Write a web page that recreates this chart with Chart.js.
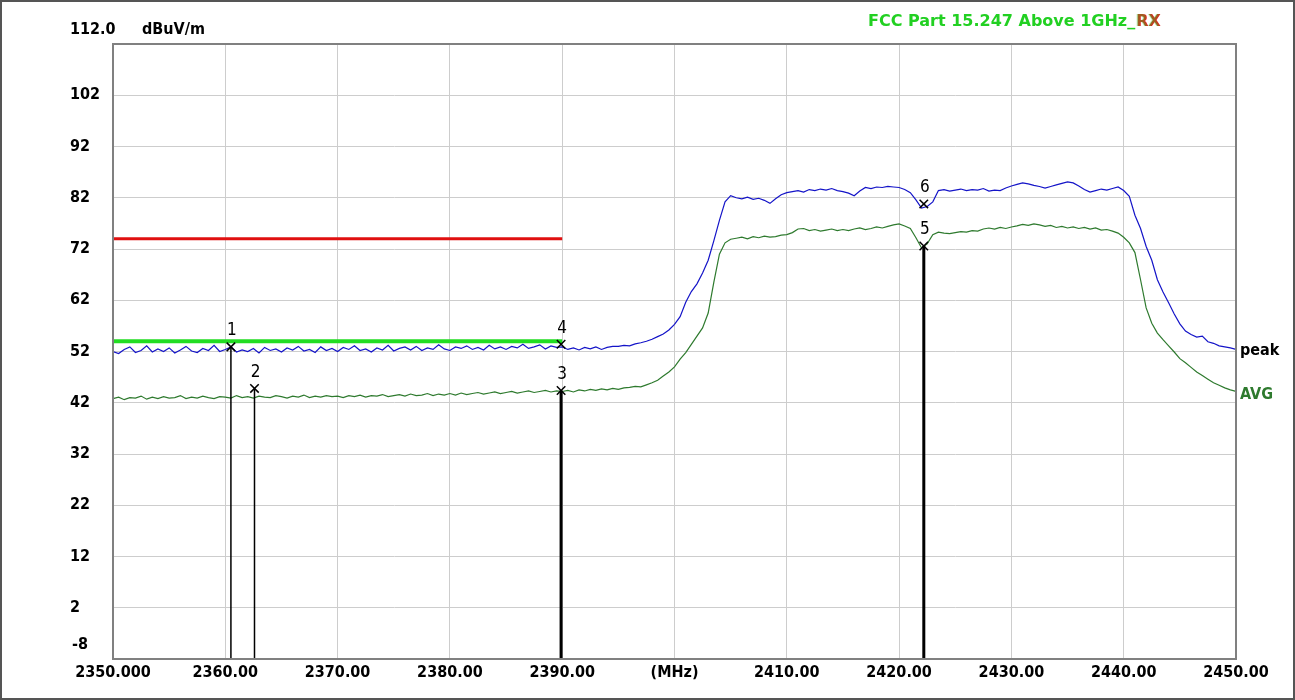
<!DOCTYPE html>
<html>
<head>
<meta charset="utf-8">
<script src="https://cdn.jsdelivr.net/npm/chart.js@4/dist/chart.umd.min.js"></script>
<style>
  html, body { margin: 0; padding: 0; background: #fff; }
  #wrap { width: 1295px; height: 700px; }
</style>
</head>
<body>
<div id="wrap"><canvas id="emiChart" width="1295" height="700"></canvas></div>
<script>
// sweep: 2350 MHz .. 2450 MHz, one reading every 0.5 MHz
const freqStart = 2350;
const freqStep = 0.5;

const peakLevel = [
  52.0, 51.6, 52.4, 52.9, 51.8, 52.2, 53.1, 51.9, 52.5, 52.0,
  52.7, 51.7, 52.3, 53.0, 52.1, 51.8, 52.6, 52.2, 53.2, 52.0,
  52.4, 52.9, 51.9, 52.3, 52.0, 52.6, 51.7, 52.8, 52.2, 52.5,
  51.9, 52.7, 52.3, 53.0, 52.1, 52.4, 51.8, 52.9, 52.2, 52.6,
  52.0, 52.8, 52.4, 53.1, 52.2, 52.5, 51.9, 52.7, 52.3, 53.2,
  52.1, 52.6, 52.9, 52.3, 53.0, 52.2, 52.7, 52.4, 53.3, 52.5,
  52.2, 52.9, 52.6, 53.1, 52.4, 52.8, 52.3, 53.2, 52.5, 52.9,
  52.4, 53.0, 52.7, 53.4, 52.6, 52.9, 53.3, 52.5, 53.1, 52.8,
  52.9,
  52.4, 52.7, 52.3, 52.8, 52.5, 52.9, 52.4, 52.8, 53.0,
  53.0, 53.2, 53.1, 53.5, 53.7, 54.0, 54.4, 54.9, 55.4, 56.2,
  57.3, 58.8, 61.6, 63.7, 65.2, 67.3, 69.8, 73.6, 77.6, 81.2,
  82.4, 82.0, 81.8, 82.1, 81.7, 81.9, 81.5, 80.9, 81.8, 82.6,
  83.0, 83.2, 83.4, 83.1, 83.6, 83.4, 83.7, 83.5, 83.8, 83.4,
  83.2, 82.9, 82.4, 83.3, 84.0, 83.8, 84.1, 84.0, 84.2, 84.1,
  84.0, 83.6, 83.0, 81.6, 80.0, 80.3, 81.2, 83.4, 83.6, 83.3,
  83.5, 83.7, 83.4, 83.6, 83.5, 83.8, 83.3, 83.5, 83.4, 83.9,
  84.3, 84.6, 84.9, 84.7, 84.4, 84.2, 83.9, 84.2, 84.5, 84.8,
  85.1, 84.9, 84.3, 83.6, 83.1, 83.4, 83.7, 83.5, 83.8, 84.1,
  83.4, 82.3, 78.6, 76.0, 72.5, 69.8, 66.0, 63.6, 61.5, 59.3,
  57.4, 56.0, 55.3, 54.8, 55.0, 53.9, 53.6, 53.1, 52.9, 52.7,
  52.4
];

const avgLevel = [
  42.8, 43.1, 42.6, 43.0, 42.9, 43.3, 42.7, 43.1, 42.8, 43.2,
  42.9, 43.0, 43.4, 42.8, 43.1, 42.9, 43.3, 43.0, 42.8, 43.2,
  43.1, 42.9, 43.4, 43.0, 43.2, 42.9, 43.3, 43.1, 43.0, 43.4,
  43.2, 42.9, 43.3, 43.1, 43.5, 43.0, 43.3, 43.1, 43.4, 43.2,
  43.3, 43.0, 43.4, 43.2, 43.5, 43.1, 43.4, 43.3, 43.6, 43.2,
  43.4, 43.6, 43.3, 43.7, 43.4, 43.5, 43.8, 43.4, 43.7, 43.5,
  43.8, 43.5, 43.9, 43.6, 43.8, 44.0, 43.7, 43.9, 44.1, 43.8,
  44.0, 44.2, 43.9, 44.1, 44.3, 44.0, 44.2, 44.4, 44.1, 44.3,
  44.2,
  44.4, 44.1, 44.5, 44.3, 44.6, 44.4, 44.7, 44.5, 44.8,
  44.6, 44.9, 45.0, 45.2, 45.1, 45.5, 45.9, 46.4, 47.2, 48.0,
  49.0, 50.5, 51.8, 53.4, 55.0, 56.6, 59.5, 65.5, 71.0, 73.2,
  73.9, 74.1, 74.3, 74.0, 74.4, 74.2, 74.5, 74.3, 74.4, 74.7,
  74.8, 75.2, 75.9, 76.0, 75.6, 75.8, 75.5, 75.7, 75.9, 75.6,
  75.8, 75.6, 75.9, 76.1, 75.8, 76.0, 76.3, 76.1, 76.4, 76.7,
  76.9, 76.5, 76.0, 74.2, 72.2, 73.0, 74.8, 75.3, 75.1, 75.0,
  75.2, 75.4, 75.3, 75.6, 75.5, 75.9, 76.1, 75.9, 76.2, 76.0,
  76.3, 76.5, 76.8, 76.6, 76.9, 76.7, 76.4, 76.6, 76.2, 76.4,
  76.1, 76.3, 76.0, 76.2, 75.9, 76.1, 75.7, 75.8, 75.5, 75.1,
  74.3, 73.2, 71.3, 66.0, 60.5, 57.5, 55.6, 54.3, 53.1, 51.9,
  50.6, 49.8, 48.9, 48.0, 47.3, 46.6, 45.9, 45.4, 44.9, 44.5,
  44.2
];

// limit lines (only drawn over the restricted band)
const limitFreq = [2350, 2390];
const peakLimit = 74;
const avgLimit = 54;

// markers 1..6
const markerNo = ['1', '2', '3', '4', '5', '6'];
const markerFreq = [2360.5, 2362.6, 2389.9, 2389.9, 2422.2, 2422.2];
const markerLevel = [52.9, 44.8, 44.4, 53.4, 72.6, 80.8];
const markerLineW = [1.5, 1.5, 3, 0, 3, 0];

const yMin = -8;
const yMax = 112;

const toPoints = arr => arr.map((y, i) => ({ x: freqStart + i * freqStep, y }));

const markerLines = markerNo
  .map((n, i) => ({
    type: 'line',
    data: [{ x: markerFreq[i], y: markerLevel[i] }, { x: markerFreq[i], y: yMin }],
    borderColor: '#000',
    borderWidth: markerLineW[i],
    pointRadius: 0
  }))
  .filter(d => d.borderWidth > 0);

const FONT = '"DejaVu Sans Condensed", "DejaVu Sans", sans-serif';

const decor = {
  id: 'decor',
  afterDraw(chart) {
    const { ctx, chartArea: a, scales } = chart;
    const x = scales.x, y = scales.y;
    ctx.save();
    // plot frame
    ctx.strokeStyle = '#808080';
    ctx.lineWidth = 2;
    ctx.strokeRect(a.left, a.top, a.right - a.left, a.bottom - a.top);
    // outer frame
    ctx.strokeStyle = '#555';
    ctx.strokeRect(1, 1, chart.width - 2, chart.height - 2);

    ctx.fillStyle = '#000';
    ctx.textBaseline = 'middle';
    ctx.textAlign = 'left';
    ctx.font = 'bold 16px ' + FONT;
    ctx.fillText('112.0', 70, y.getPixelForValue(yMax) - 14);
    ctx.fillText('dBuV/m', 142, y.getPixelForValue(yMax) - 14);
    ctx.fillText('-8', 72, y.getPixelForValue(yMin) - 14);

    // title
    ctx.font = 'bold 16px "DejaVu Sans", sans-serif';
    const t1 = 'FCC Part 15.247 Above 1GHz_';
    const tx = 868, ty = 22;
    ctx.fillStyle = '#22d022';
    ctx.fillText(t1, tx, ty);
    const w1 = ctx.measureText(t1).width;
    ctx.fillStyle = '#e02020';
    ctx.fillText('RX', tx + w1 + 1, ty);
    ctx.fillStyle = 'rgba(34,208,34,0.35)';
    ctx.fillText('RX', tx + w1, ty);

    // trace names at right end
    ctx.font = 'bold 16px ' + FONT;
    ctx.fillStyle = '#000';
    ctx.fillText('peak', a.right + 4, y.getPixelForValue(peakLevel[peakLevel.length - 1]) + 1);
    ctx.fillStyle = '#2e7a2e';
    ctx.fillText('AVG', a.right + 4, y.getPixelForValue(avgLevel[avgLevel.length - 1]) + 3);

    // marker numbers
    ctx.font = '17px ' + FONT;
    ctx.fillStyle = '#000';
    ctx.textAlign = 'center';
    markerNo.forEach((n, i) => {
      ctx.fillText(n, x.getPixelForValue(markerFreq[i]) + 1, y.getPixelForValue(markerLevel[i]) - 16);
    });
    ctx.restore();
  }
};

new Chart(document.getElementById('emiChart'), {
  type: 'line',
  data: {
    datasets: [
      {
        type: 'scatter',
        data: markerFreq.map((f, i) => ({ x: f, y: markerLevel[i] })),
        pointStyle: 'crossRot',
        pointRadius: 6,
        pointBorderWidth: 1.5,
        borderColor: '#000',
        showLine: false
      },
      ...markerLines,
      {
        label: 'peak',
        data: toPoints(peakLevel),
        borderColor: '#1414c8',
        borderWidth: 1.2,
        pointRadius: 0
      },
      {
        label: 'AVG',
        data: toPoints(avgLevel),
        borderColor: '#2e7a2e',
        borderWidth: 1.2,
        pointRadius: 0
      },
      {
        data: limitFreq.map(f => ({ x: f, y: avgLimit })),
        borderColor: '#22dd22',
        borderWidth: 4,
        pointRadius: 0
      },
      {
        data: limitFreq.map(f => ({ x: f, y: peakLimit })),
        borderColor: '#e01010',
        borderWidth: 3,
        pointRadius: 0
      }
    ]
  },
  options: {
    responsive: false,
    animation: false,
    devicePixelRatio: 1,
    layout: { padding: { left: 70, right: 59, top: 44, bottom: 0 } },
    plugins: { legend: { display: false }, tooltip: { enabled: false } },
    scales: {
      x: {
        type: 'linear',
        min: 2350,
        max: 2450,
        afterFit: s => { s.height = 41; },
        grid: { color: '#cdcdcd', lineWidth: 1, drawTicks: false },
        border: { color: '#808080', width: 2 },
        ticks: {
          stepSize: 10,
          padding: 4,
          maxRotation: 0,
          autoSkip: false,
          color: '#000',
          font: { family: FONT, size: 16, weight: 'bold' },
          callback: v => v === 2350 ? '2350.000' : v === 2400 ? '(MHz)' : v.toFixed(2)
        }
      },
      y: {
        min: yMin,
        max: yMax,
        afterFit: s => { s.width = 43; },
        grid: { color: '#cdcdcd', lineWidth: 1, drawTicks: false },
        border: { color: '#808080', width: 2 },
        ticks: {
          stepSize: 10,
          crossAlign: 'far',
          color: '#000',
          font: { family: FONT, size: 16, weight: 'bold' },
          callback: v => (v === yMin || v === yMax) ? '' : String(v)
        }
      }
    }
  },
  plugins: [decor]
});
</script>
</body>
</html>
